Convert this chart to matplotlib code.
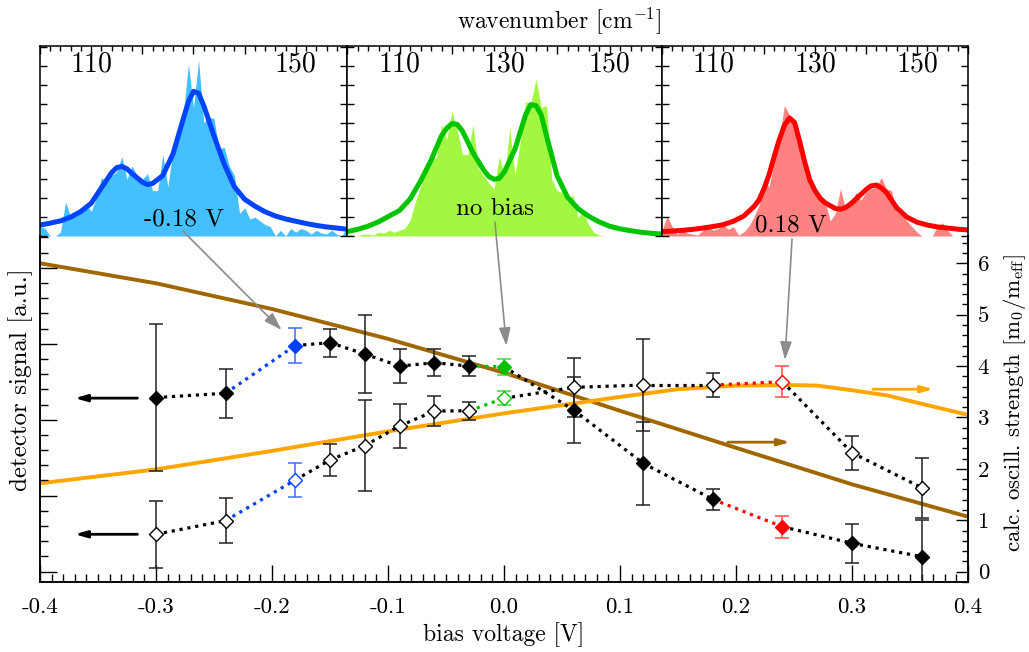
import matplotlib.pyplot as plt
import numpy as np
from matplotlib.ticker import MultipleLocator, FuncFormatter, NullFormatter

plt.rcParams['font.family'] = 'cmr10'
plt.rcParams['mathtext.fontset'] = 'cm'
plt.rcParams['axes.unicode_minus'] = False
plt.rcParams['axes.formatter.use_mathtext'] = True

# ---- measured detector signal (a.u.) vs bias voltage
bias = [-0.30, -0.24, -0.18, -0.15, -0.12, -0.09, -0.06, -0.03, 0.00,
        0.06, 0.12, 0.18, 0.24, 0.30, 0.36]
sig_full = [11.46, 11.74, 14.88, 15.07, 14.32, 13.53, 13.75, 13.53, 13.49,
            10.64, 7.13, 4.76, 2.96, 1.87, 0.99]
err_full = [4.84, 1.62, 1.15, 0.92, 2.59, 1.10, 0.90, 0.66, 0.53,
            2.15, 2.74, 0.70, 0.72, 1.27, 2.41]
sig_open = [2.46, 3.36, 6.03, 7.35, 8.29, 9.59, 10.57, 10.59, 11.41,
            12.13, 12.28, 12.28, 12.50, 7.83, 5.53]
err_open = [2.19, 1.46, 1.12, 1.05, 2.99, 1.43, 0.99, 0.58, 0.46,
            1.95, 3.01, 0.79, 1.01, 1.13, 1.97]
# highlighted bias points -> (marker colour, error bar colour)
hilite = {-0.18: ('#0040ff', '#3a6cff'), 0.00: ('#00c000', '#40d840'), 0.24: ('#ff0000', '#ff4a4a')}

# ---- calculated oscillator strength
calc_v1 = [-0.4, -0.3, -0.2, -0.1, 0.0, 0.1, 0.2, 0.3, 0.4]
osc_brown = [6.00, 5.61, 5.11, 4.53, 3.87, 3.13, 2.41, 1.70, 1.07]
calc_v2 = [-0.4, -0.3, -0.2, -0.1, 0.0, 0.1, 0.15, 0.2, 0.25, 0.27, 0.3, 0.33, 0.4]
osc_orange = [1.72, 1.99, 2.35, 2.73, 3.08, 3.40, 3.55, 3.62, 3.63, 3.62, 3.53, 3.43, 3.05]

# ---- spectra (insets)
wn = np.arange(100, 161)
spec_neg = [0.5, 0.4, 0.0, 0.0, 0.2, 1.8, 1.0, 1.3, 1.5, 1.7, 1.3, 2.0, 3.1, 2.8, 3.2, 3.4,
            4.2, 3.0, 3.7, 3.2, 3.0, 3.3, 2.4, 2.4, 4.3, 2.6, 4.6, 5.4, 6.4, 9.1, 6.8, 9.3,
            6.0, 6.3, 6.2, 4.6, 4.7, 3.7, 3.2, 1.2, 1.5, 0.9, 1.0, 0.8, 0.6, 0.5, 0.0, 0.3,
            0.0, 0.4, 0.2, 0.4, 0.3, 0.1, 0.3, 0.15, 0.1, 0.3, 0.1, 0.0, 0.5]
spec_zero = [0.05, 0.05, 0.0, 0.1, 0.1, 0.05, 0.2, 0.15, 0.3, 0.2, 0.3, 0.4, 0.8, 1.8, 2.6,
             3.5, 4.3, 4.1, 5.9, 5.1, 6.6, 5.6, 4.3, 4.3, 5.9, 3.6, 3.2, 2.8, 2.5, 4.2, 3.2,
             5.7, 3.2, 5.0, 7.1, 7.0, 8.3, 6.8, 6.9, 3.0, 2.4, 2.3, 1.8, 2.2, 1.0, 1.3, 0.6,
             0.2, 0.05, 0.0, 0.0, 0.0, 0.0, 0.0, 0.0, 0.0, 0.0, 0.0, 0.0, 0.0, 0.0]
spec_pos = [0.3, 1.05, 0.5, 0.1, 0.3, 0.15, 0.1, 0.05, 0.3, 0.5, 0.3, 0.4, 0.6, 0.35, 0.5,
            0.05, 0.2, 0.5, 1.0, 1.6, 3.0, 2.6, 3.9, 5.2, 6.9, 6.4, 5.7, 4.8, 3.6, 2.7, 2.4,
            2.1, 1.8, 0.8, 1.2, 2.5, 1.4, 1.6, 2.3, 1.9, 2.3, 2.5, 2.6, 3.1, 2.5, 2.4, 1.3,
            1.1, 0.8, 0.5, 0.2, 0.0, 0.0, 0.0, 0.5, 0.7, 0.3, 0.0, 0.0, 0.0, 0.0]

fit_neg_x = [100, 102, 104, 106, 108, 110, 112, 114, 115, 116, 117, 118, 120, 121, 122, 124,
             126, 128, 129, 130, 131, 132, 134, 136, 138, 140, 142, 144, 146, 148, 150, 152,
             154, 156, 158, 160]
fit_neg_y = [0.58, 0.68, 0.80, 1.0, 1.3, 1.73, 2.55, 3.35, 3.62, 3.68, 3.55, 3.3, 2.85, 2.72,
             2.78, 3.2, 4.35, 6.2, 7.1, 7.65, 7.55, 6.9, 5.3, 3.8, 2.6, 1.94, 1.58, 1.28,
             1.06, 0.9, 0.78, 0.66, 0.56, 0.48, 0.42, 0.36]
fit_zero_x = [100, 102, 104, 106, 108, 110, 112, 114, 116, 118, 119, 120, 121, 122, 124, 126,
              127, 128, 129, 130, 132, 134, 135, 136, 137, 138, 140, 142, 144, 146, 148, 150,
              152, 154, 156, 158, 160]
fit_zero_y = [0.23, 0.35, 0.52, 0.75, 1.05, 1.35, 1.95, 2.9, 4.0, 5.3, 5.7, 5.95, 5.9, 5.55,
              4.4, 3.5, 3.15, 3.0, 3.05, 3.4, 4.6, 6.4, 6.95, 6.9, 6.4, 5.3, 3.2, 2.05, 1.45,
              1.05, 0.75, 0.52, 0.38, 0.28, 0.2, 0.14, 0.1]
fit_pos_x = [100, 102, 104, 106, 108, 110, 112, 114, 116, 118, 119, 120, 121, 122, 123, 124,
             125, 126, 127, 128, 129, 130, 131, 132, 134, 135, 136, 137, 138, 140, 141, 142,
             143, 144, 146, 148, 150, 152, 154, 156, 158, 160]
fit_pos_y = [0.23, 0.26, 0.3, 0.35, 0.42, 0.5, 0.6, 0.78, 1.05, 1.55, 1.9, 2.5, 3.25, 4.2,
             5.1, 5.85, 6.25, 6.0, 5.0, 3.9, 2.95, 2.4, 2.0, 1.75, 1.45, 1.42, 1.5, 1.7,
             1.95, 2.45, 2.65, 2.7, 2.55, 2.3, 1.5, 1.0, 0.73, 0.58, 0.48, 0.42, 0.36, 0.32]

W, H = 1029, 652
fig = plt.figure(figsize=(W / 100, H / 100), dpi=100)


def px_box(x0, x1, ytop, ybot):
    return [x0 / W, (H - ybot) / H, (x1 - x0) / W, (ybot - ytop) / H]


# ---------------- main axes
# ax2: oscillator strength (right axis) + x axis; ax: detector signal (left), drawn on top
ax2 = fig.add_axes(px_box(40, 968, 236, 582))
ax = ax2.twinx()
ax.set_zorder(3)
ax.patch.set_visible(False)

ax.yaxis.tick_left()
ax.yaxis.set_label_position('left')
ax2.yaxis.tick_right()
ax2.yaxis.set_label_position('right')

ax2.set_xlim(-0.4, 0.4)
ax.set_ylim(-0.68, 22.09)
ax2.set_ylim(-0.2, 6.53)

brown = '#a06700'
orange = '#ffa500'
ax2.plot(calc_v1, osc_brown, color=brown, lw=2.8, zorder=2)
ax2.plot(calc_v2, osc_orange, color=orange, lw=2.8, zorder=2)
ax2.annotate('', xy=(0.2466, 2.52), xytext=(0.193, 2.52),
             arrowprops=dict(arrowstyle='-|>,head_length=0.7,head_width=0.2', color=brown, lw=2,
                             shrinkA=0, shrinkB=0))
ax2.annotate('', xy=(0.370, 3.55), xytext=(0.318, 3.55),
             arrowprops=dict(arrowstyle='-|>,head_length=0.7,head_width=0.2', color=orange, lw=2,
                             shrinkA=0, shrinkB=0))

# left pointing arrows for measured data
for yy in (11.42, 2.46):
    ax.annotate('', xy=(-0.370, yy), xytext=(-0.316, yy),
                arrowprops=dict(arrowstyle='-|>,head_length=0.7,head_width=0.2', color='k', lw=2,
                                shrinkA=0, shrinkB=0))


def draw_series(vals, errs, filled):
    # dotted connecting segments, coloured when leading into a highlighted point
    for i in range(len(bias) - 1):
        c = hilite[bias[i + 1]][0] if bias[i + 1] in hilite else 'k'
        ax.plot(bias[i:i + 2], vals[i:i + 2], ls=(0, (1, 1.5)), lw=2.3, color=c, zorder=2)
    for b, v, e in zip(bias, vals, errs):
        if b in hilite:
            mc, ec = hilite[b]
        else:
            mc, ec = 'k', '#222222'
        ax.errorbar(b, v, yerr=e, fmt='none', ecolor=ec, elinewidth=1.1, capsize=5,
                    capthick=1.1, zorder=3)
        ax.plot(b, v, marker='D', ms=7.3, ls='none', zorder=4,
                mfc=mc if filled else 'white', mec=mc, mew=1.0)


draw_series(sig_full, err_full, True)
draw_series(sig_open, err_open, False)

# ticks main
ax2.xaxis.set_major_locator(MultipleLocator(0.1))
ax2.xaxis.set_minor_locator(MultipleLocator(0.01))
ax2.xaxis.set_major_formatter(FuncFormatter(lambda v, p: '%.1f' % v if abs(v) > 1e-9 else '0.0'))
ax2.tick_params(axis='x', which='major', direction='in', length=12, width=1, labelsize=16.5,
                pad=11, top=False)
ax2.tick_params(axis='x', which='minor', direction='in', length=5.5, width=1, top=False)
ax.yaxis.set_major_locator(MultipleLocator(5))
ax.yaxis.set_minor_locator(MultipleLocator(1))
ax.yaxis.set_major_formatter(NullFormatter())
ax.tick_params(axis='y', which='major', direction='in', length=12, width=1)
ax.tick_params(axis='y', which='minor', direction='in', length=6, width=1)
ax2.yaxis.set_major_locator(MultipleLocator(1))
ax2.yaxis.set_minor_locator(MultipleLocator(0.2))
ax2.yaxis.set_major_formatter(FuncFormatter(lambda v, p: '%d' % round(v)))
ax2.tick_params(axis='y', which='major', direction='in', length=8.5, width=1, labelsize=16.5, pad=7)
ax2.tick_params(axis='y', which='minor', direction='in', length=4.3, width=1)
for a in (ax, ax2):
    a.spines['top'].set_visible(False)
    for s in ('left', 'right', 'bottom'):
        a.spines[s].set_linewidth(1.1)

ax2.set_xlabel('bias voltage [V]', fontsize=17, labelpad=4)
ax.set_ylabel('detector signal [a.u.]', fontsize=18)
ax.yaxis.set_label_coords(-0.008, 0.584)
ax2.set_ylabel(r'calc. oscill. strength [m$_{\mathrm{0}}$/m$_{\mathrm{eff}}$]', fontsize=16.5)
ax2.yaxis.set_label_coords(1.036, 0.517)

# ---------------- insets
insets = [
    ((40, 347), spec_neg, fit_neg_x, fit_neg_y, '#44bfff', '#0044ff', '-0.18 V', 128.1, 0.53, (110, 150)),
    ((347, 662), spec_zero, fit_zero_x, fit_zero_y, '#a2f840', '#00c400', 'no bias', 128.1, 1.11, (110, 130, 150)),
    ((662, 968), spec_pos, fit_pos_x, fit_pos_y, '#ff8282', '#ff0000', '0.18 V', 125.2, 0.26, (110, 130, 150)),
]
for (x0, x1), spec, fx, fy, fc, lc, lab, tx, ty, labs in insets:
    ia = fig.add_axes(px_box(x0, x1, 46, 236))
    ia.set_zorder(2)
    ia.fill_between(wn, spec, 0, color=fc, lw=0, zorder=1)
    ia.plot(fx, fy, color=lc, lw=3.6, zorder=2, solid_capstyle='round')
    ia.set_xlim(100, 160)
    ia.set_ylim(0, 10.05)
    ia.xaxis.set_major_locator(MultipleLocator(10))
    ia.xaxis.set_minor_locator(MultipleLocator(2))
    ia.xaxis.set_major_formatter(FuncFormatter(lambda v, p, labs=labs: '%d' % v if round(v) in labs else ''))
    ia.yaxis.set_major_locator(MultipleLocator(1))
    ia.yaxis.set_major_formatter(NullFormatter())
    ia.tick_params(axis='x', which='major', direction='in', top=True, bottom=False,
                   labeltop=True, labelbottom=False, length=6, width=1, labelsize=20, pad=-23)
    ia.tick_params(axis='x', which='minor', direction='in', top=True, bottom=False, length=3.5, width=1)
    ia.tick_params(axis='y', which='major', direction='in', left=True, right=True, length=5, width=1)
    ia.spines['bottom'].set_visible(False)
    for s in ('left', 'right', 'top'):
        ia.spines[s].set_linewidth(1.1)
    ia.text(tx, ty, lab, ha='center', va='baseline', fontsize=18, zorder=3)

fig.text(558.8 / W, (H - 28.3) / H, r'wavenumber [cm$^{\mathregular{-1}}$]', ha='center',
         va='baseline', fontsize=17)

# gray arrows from inset labels to the highlighted data points
gray = '#8c8c8c'
for start, tip in [((-0.2767, 22.41), (-0.1917, 15.9)),
                   ((-0.0078, 23.0), (0.0021, 14.85)),
                   ((0.2483, 21.89), (0.2422, 13.93))]:
    ax.annotate('', xy=tip, xytext=start, annotation_clip=False,
                arrowprops=dict(arrowstyle='-|>,head_length=1.1,head_width=0.35', color=gray,
                                lw=1.2, shrinkA=0, shrinkB=0), zorder=5)

fig.savefig('out.png', dpi=100)
